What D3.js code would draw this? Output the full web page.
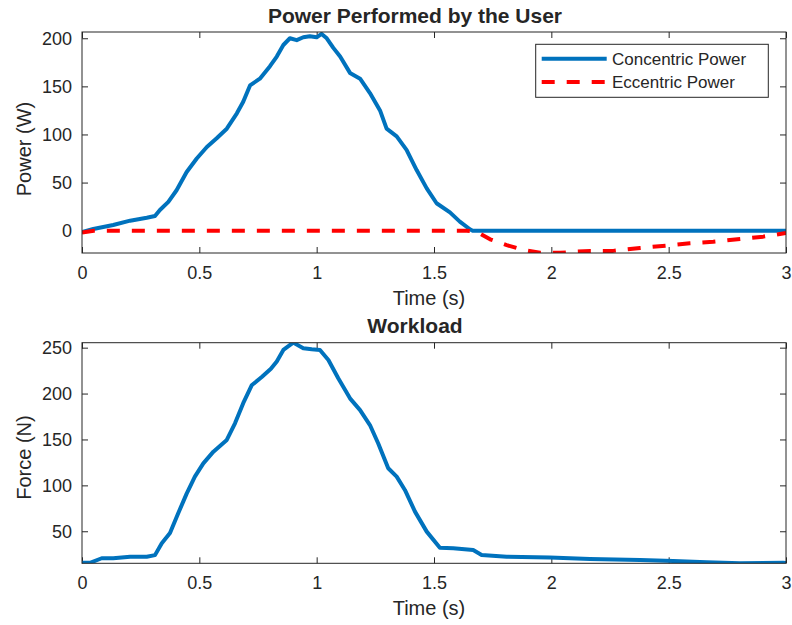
<!DOCTYPE html>
<html lang="en">
<head>
  <meta charset="UTF-8" />
  <title>Power and Workload</title>
  <style>
    body {
      margin: 0;
      background: #fff;
      font-family: "Liberation Sans", Arial, Helvetica, sans-serif;
    }
    svg text { fill: #262626; }
  </style>
</head>
<body>
  <svg id="chart" width="792" height="625"></svg>

  <script src="https://d3js.org/d3.v7.min.js"></script>
  <script>
    // concentric power (W) vs time (s)
    const concTime = [0, 0.048, 0.133, 0.205, 0.276, 0.311, 0.332, 0.368, 0.403, 0.446, 0.489, 0.532,
      0.574, 0.617, 0.66, 0.687, 0.716, 0.758, 0.801, 0.83, 0.858, 0.886, 0.915, 0.943, 0.971, 1.0,
      1.021, 1.043, 1.071, 1.1, 1.142, 1.185, 1.227, 1.27, 1.298, 1.341, 1.383, 1.426, 1.469, 1.511,
      1.568, 1.61, 1.653, 1.665, 3.0];
    const concPower = [-1.4, 1.8, 5.9, 10.4, 13.5, 15.3, 21.5, 30, 42, 61, 75, 87,
      96, 106, 122, 134, 151, 158, 171, 181, 193, 200, 198, 201, 202, 201,
      204.5, 200, 190, 181, 164, 158, 143, 125, 106, 98, 84, 63, 44, 28.5,
      19, 9.4, 1.5, 0, 0];

    // eccentric power (W) vs time (s)
    const eccTime = [0, 0.05, 1.64, 1.68, 1.739, 1.81, 1.88, 1.952, 2.037, 2.094, 2.165, 2.264,
      2.378, 2.492, 2.59, 2.69, 2.804, 2.903, 3.0];
    const eccPower = [-2, 0, 0, -1, -9, -15, -20, -23, -23, -22, -21, -21,
      -18, -15.5, -13, -11.5, -8.6, -6.2, -2.5];

    // workload force (N) vs time (s)
    const forceTime = [0, 0.034, 0.084, 0.133, 0.205, 0.276, 0.311, 0.34, 0.375, 0.41, 0.446, 0.481,
      0.517, 0.56, 0.617, 0.652, 0.687, 0.723, 0.766, 0.805, 0.83, 0.858, 0.9, 0.943, 0.979, 1.014,
      1.05, 1.092, 1.142, 1.185, 1.227, 1.262, 1.305, 1.341, 1.376, 1.419, 1.469, 1.525, 1.582,
      1.667, 1.703, 1.81, 1.994, 2.165, 2.378, 2.52, 2.662, 2.804, 2.988, 3.0];
    const force = [15.6, 15.6, 20.6, 20.6, 22.3, 22.3, 24, 37, 48, 69.6, 91, 109.5,
      124, 136.7, 149.5, 167.6, 189.5, 209, 218, 227, 235, 247.5, 255.5, 249.3, 248.2, 247.5,
      236.6, 216.6, 194.8, 182, 165.7, 145.9, 118.6, 109.5, 95, 71.4, 49.6, 32, 31.5,
      29.6, 24.2, 22.3, 21.3, 19.8, 18.6, 17.6, 16.2, 15.1, 15.6, 15.5];

    const xTicks = [0, 0.5, 1, 1.5, 2, 2.5, 3];
    const powerTicks = [0, 50, 100, 150, 200];
    const forceTicks = [50, 100, 150, 200, 250];
    const legendNames = ["Concentric Power", "Eccentric Power"];

    const BLUE = "#0072BD", RED = "#FF0000", AX = "#262626";
    const svg = d3.select("#chart");

    const x = d3.scaleLinear().domain([0, 3]).range([82, 786]);

    function panel(cfg) {
      const y = d3.scaleLinear().domain(cfg.yDomain).range([cfg.bottom, cfg.top]);
      const g = svg.append("g");
      const h = cfg.bottom - cfg.top;

      g.append("clipPath").attr("id", cfg.id)
        .append("rect").attr("x", 82).attr("y", cfg.top)
        .attr("width", 704).attr("height", h);

      const axisStyle = sel => {
        sel.select(".domain").remove();
        sel.selectAll("line").attr("stroke", AX);
        sel.selectAll("text").style("font-size", "18px").attr("fill", AX)
          .style("font-family", "'Liberation Sans', Arial, sans-serif");
      };

      g.append("g").attr("transform", `translate(0,${cfg.bottom})`)
        .call(d3.axisBottom(x).tickValues(xTicks).tickFormat(d3.format("~g"))
          .tickSizeInner(-6).tickSizeOuter(0).tickPadding(13))
        .call(axisStyle);
      g.append("g").attr("transform", `translate(0,${cfg.top})`)
        .call(d3.axisTop(x).tickValues(xTicks).tickFormat("")
          .tickSizeInner(-6).tickSizeOuter(0))
        .call(axisStyle);
      g.append("g").attr("transform", "translate(82,0)")
        .call(d3.axisLeft(y).tickValues(cfg.yTicks)
          .tickSizeInner(-6).tickSizeOuter(0).tickPadding(10))
        .call(axisStyle);
      g.append("g").attr("transform", "translate(786,0)")
        .call(d3.axisRight(y).tickValues(cfg.yTicks).tickFormat("")
          .tickSizeInner(-6).tickSizeOuter(0))
        .call(axisStyle);

      const plot = g.append("g").attr("clip-path", `url(#${cfg.id})`);
      const line = d3.line().x(d => x(d[0])).y(d => y(d[1]));
      cfg.series.forEach(s => {
        plot.append("path")
          .datum(d3.zip(s.t, s.v))
          .attr("fill", "none")
          .attr("stroke", s.color)
          .attr("stroke-width", 4)
          .attr("stroke-linejoin", "round")
          .attr("stroke-dasharray", s.dash || null)
          .attr("d", line);
      });

      g.append("rect").attr("x", 82).attr("y", cfg.top)
        .attr("width", 704).attr("height", h)
        .attr("fill", "none").attr("stroke", AX).attr("stroke-width", 1);

      g.append("text").attr("x", 415).attr("y", cfg.top - 9.5)
        .attr("text-anchor", "middle")
        .style("font-size", "21px").style("font-weight", "bold").attr("fill", "#000")
        .text(cfg.title);
      g.append("text").attr("x", 429).attr("y", cfg.bottom + 52)
        .attr("text-anchor", "middle").style("font-size", "20px")
        .text("Time (s)");
      g.append("text")
        .attr("transform", `translate(31,${cfg.labelY}) rotate(-90)`)
        .attr("text-anchor", "middle").style("font-size", "20px")
        .text(cfg.yLabel);
      return g;
    }

    panel({
      id: "clipTop", top: 32, bottom: 253, yDomain: [-23.2, 206.5], yTicks: powerTicks,
      title: "Power Performed by the User", yLabel: "Power (W)", labelY: 149,
      series: [
        { t: concTime, v: concPower, color: BLUE },
        { t: eccTime, v: eccPower, color: RED, dash: "13,12" }
      ]
    });

    panel({
      id: "clipBot", top: 342.7, bottom: 563.3, yDomain: [15.1, 255.4], yTicks: forceTicks,
      title: "Workload", yLabel: "Force (N)", labelY: 457.5,
      series: [{ t: forceTime, v: force, color: BLUE }]
    });

    // legend
    const leg = svg.append("g");
    leg.append("rect").attr("x", 535.7).attr("y", 44.3)
      .attr("width", 232.6).attr("height", 53)
      .attr("fill", "#fff").attr("stroke", AX).attr("stroke-width", 1);
    const legColors = [BLUE, RED];
    const legDash = [null, "13,12"];
    legendNames.forEach((name, i) => {
      const ly = 58.7 + i * 23.3;
      leg.append("line").attr("x1", 541.7).attr("x2", 606.7)
        .attr("y1", ly).attr("y2", ly)
        .attr("stroke", legColors[i]).attr("stroke-width", 4)
        .attr("stroke-dasharray", legDash[i]);
      leg.append("text").attr("x", 612).attr("y", ly + 6)
        .style("font-size", "17px").text(name);
    });
  </script>
</body>
</html>
